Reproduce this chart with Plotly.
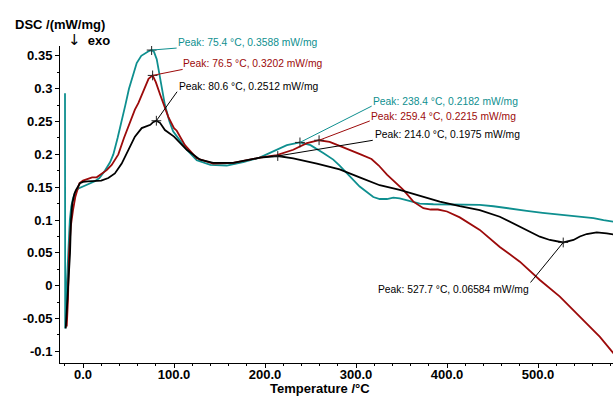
import plotly.graph_objects as go

# DSC heat-flow curves, three samples (temperature in °C, DSC in mW/mg)
temp_teal = [-19.8, -19.6, -18.5, -17.5, -16.2, -15.2, -14.5, -13, -11, -8.5, -5, 0, 6, 13, 18,
             24, 29.7, 33.3, 38, 42.5, 46.5, 50.5, 55, 59, 64, 68, 72, 75.4, 78, 81, 85, 90,
             95, 99, 106, 114, 125, 140, 158, 176, 194, 209, 224, 238.4, 250, 264, 275, 282,
             290, 304, 319, 326, 334, 341, 348, 356, 370, 385, 400, 414, 436, 451, 470, 487.6,
             505, 524, 543, 561, 572, 583]
dsc_teal = [0.293, -0.065, -0.02, 0.02, 0.05, 0.08, 0.10, 0.12, 0.133, 0.142, 0.148, 0.151, 0.155,
            0.159, 0.164, 0.175, 0.188, 0.2, 0.225, 0.25, 0.275, 0.3, 0.322, 0.339, 0.350, 0.354,
            0.357, 0.3588, 0.356, 0.345, 0.315, 0.275, 0.25, 0.235, 0.222, 0.207, 0.191, 0.184,
            0.183, 0.188, 0.195, 0.204, 0.214, 0.2182, 0.214, 0.202, 0.192, 0.183, 0.171, 0.151,
            0.135, 0.132, 0.132, 0.134, 0.133, 0.130, 0.125, 0.124, 0.124, 0.124, 0.123, 0.121,
            0.117, 0.114, 0.111, 0.108, 0.106, 0.103, 0.100, 0.0975]

temp_red = [-17.9, -16.5, -15.4, -13.5, -11, -8.5, -6, -4, 0, 5, 10, 15, 20.5, 26, 31.5, 38.8,
            45, 51.6, 57, 60.8, 64, 68, 72, 76.5, 80, 85, 90, 93.7, 100, 103, 112, 125, 143,
            165, 194.5, 213, 231, 246, 259.4, 271, 282, 295, 305, 317, 325, 334, 343, 352, 363,
            374, 382, 390, 400, 414, 436, 458, 480, 502, 524, 546, 568, 583]
dsc_red = [-0.062, -0.02, 0.049, 0.09, 0.115, 0.135, 0.147, 0.156, 0.160, 0.163, 0.165, 0.165,
           0.170, 0.176, 0.184, 0.2, 0.225, 0.25, 0.268, 0.278, 0.288, 0.3, 0.315, 0.3202, 0.31,
           0.29, 0.27, 0.257, 0.24, 0.236, 0.214, 0.194, 0.186, 0.187, 0.195, 0.199, 0.207, 0.217,
           0.2215, 0.219, 0.213, 0.205, 0.200, 0.193, 0.183, 0.169, 0.157, 0.146, 0.128, 0.118,
           0.116, 0.116, 0.113, 0.104, 0.085, 0.059, 0.0366, 0.0087, -0.0167, -0.047, -0.078,
           -0.103]

temp_black = [-19, -17.5, -16.2, -14.3, -13.2, -11.8, -9.5, -7.7, -3.3, 0, 5, 13, 20, 27.8, 35,
              42.5, 49.8, 57, 64.5, 70, 74, 77, 80.6, 84.6, 90, 100, 114, 128.6, 143, 165, 194.5,
              214, 231, 257, 282, 304, 326, 348, 370, 392, 414, 436, 458, 480, 502, 513, 527.7,
              539, 546, 553.5, 564.5, 575.5, 583]
dsc_black = [-0.065, -0.03, 0.0, 0.049, 0.10, 0.125, 0.140, 0.146, 0.156, 0.158, 0.159, 0.159,
             0.160, 0.164, 0.171, 0.186, 0.207, 0.227, 0.24, 0.243, 0.245, 0.249, 0.2512, 0.248,
             0.237, 0.227, 0.207, 0.192, 0.187, 0.187, 0.195, 0.1975, 0.194, 0.186, 0.177, 0.165,
             0.153, 0.146, 0.137, 0.128, 0.121, 0.115, 0.105, 0.090, 0.0746, 0.0696, 0.06584,
             0.0696, 0.075, 0.0787, 0.0813, 0.0798, 0.078]

# Evaluated peaks
peak_temp = [75.4, 76.5, 80.6, 238.4, 259.4, 214.0, 527.7]
peak_dsc = [0.3588, 0.3202, 0.2512, 0.2182, 0.2215, 0.1975, 0.06584]
peak_series = ["teal", "red", "black", "teal", "red", "black", "black"]
# label placement (px offsets from the peak, y up) and leader-line end points
peak_text_dx = [25.6, 29, 21.3, 71.7, 50.7, 96, -33.4]
peak_text_dy = [7.3, 11.6, 34, 40.6, 24, 21.7, -47.3]
peak_line_dx = [25, 30, 20.7, 71.7, 50.7, 95, -32.7]
peak_line_dy = [2, 6, 29, 36.3, 19.3, 15.7, -40]
peak_anchor = ["left", "left", "left", "left", "left", "left", "right"]

x_ticks = [0, 100, 200, 300, 400, 500]
x_tick_text = ["0.0", "100.0", "200.0", "300.0", "400.0", "500.0"]
y_ticks = [0.35, 0.3, 0.25, 0.2, 0.15, 0.1, 0.05, 0, -0.05, -0.1]
y_tick_text = ["0.35", "0.3", "0.25", "0.2", "0.15", "0.1", "0.05", "0", "-0.05", "-0.1"]

colors = {"teal": "#0E8F8F", "red": "#9C0A0A", "black": "#000000"}
FONT = "Liberation Sans, Arial, sans-serif"

fig = go.Figure()
for t, v, key in [(temp_teal, dsc_teal, "teal"), (temp_red, dsc_red, "red"),
                  (temp_black, dsc_black, "black")]:
    fig.add_trace(go.Scatter(x=t, y=v, mode="lines",
                             line=dict(color=colors[key], width=1.8),
                             showlegend=False, hoverinfo="skip"))

# peak cross marks
fig.add_trace(go.Scatter(x=peak_temp, y=peak_dsc, mode="markers",
                         marker=dict(symbol="cross-thin", size=7,
                                     line=dict(color="#222222", width=1)),
                         showlegend=False, hoverinfo="skip"))

shapes = []
annotations = []
for t, v, key, tdx, tdy, ldx, ldy, anc in zip(peak_temp, peak_dsc, peak_series, peak_text_dx,
                                               peak_text_dy, peak_line_dx, peak_line_dy,
                                               peak_anchor):
    shapes.append(dict(type="line", xref="x", yref="y", xsizemode="pixel", ysizemode="pixel",
                       xanchor=t, yanchor=v, x0=0, y0=0, x1=ldx, y1=ldy,
                       line=dict(color=colors[key], width=1)))
    annotations.append(dict(x=t, y=v, xref="x", yref="y", showarrow=False,
                            text=f"Peak: {t:.1f} °C, {v:.4g} mW/mg",
                            xanchor=anc, yanchor="middle", xshift=tdx, yshift=tdy,
                            borderpad=0,
                            font=dict(family=FONT, size=10.3, color=colors[key])))

annotations.append(dict(x=-0.085, y=1.068, xref="paper", yref="paper", showarrow=False,
                        text="DSC /(mW/mg)", xanchor="left", yanchor="middle",
                        font=dict(family=FONT, size=13, color="black", weight="bold")))
annotations.append(dict(x=0.011, y=1.019, xref="paper", yref="paper", showarrow=False,
                        text="<span style='font-family:DejaVu Sans;font-weight:normal;"
                             "font-size:15px'>↓</span>  exo",
                        xanchor="left", yanchor="middle",
                        font=dict(family=FONT, size=13, color="black", weight="bold")))
annotations.append(dict(x=0.47, y=-0.082, xref="paper", yref="paper", showarrow=False,
                        text="Temperature /°C", xanchor="center", yanchor="middle",
                        font=dict(family=FONT, size=13, color="black", weight="bold")))

fig.update_layout(
    width=613, height=396,
    margin=dict(l=60, r=0, t=46, b=33),
    paper_bgcolor="white", plot_bgcolor="white",
    shapes=shapes, annotations=annotations,
    xaxis=dict(range=[-25.3, 582.4], showgrid=False, zeroline=False, showline=True,
               linecolor="black", linewidth=1, ticks="outside", ticklen=4, tickcolor="black",
               tickvals=x_ticks, ticktext=x_tick_text, ticklabelstandoff=-5,
               tickfont=dict(family=FONT, size=13, color="black", weight="bold"),
               minor=dict(dtick=20, tick0=0, ticks="outside", ticklen=2, tickcolor="black")),
    yaxis=dict(range=[-0.1177, 0.365], showgrid=False, zeroline=False, showline=True,
               linecolor="black", linewidth=1, ticks="outside", ticklen=4, tickcolor="black",
               tickvals=y_ticks, ticktext=y_tick_text,
               tickfont=dict(family=FONT, size=13, color="black", weight="bold"),
               minor=dict(dtick=0.025, tick0=0, ticks="outside", ticklen=2, tickcolor="black")),
)

fig.write_html("out.html")
